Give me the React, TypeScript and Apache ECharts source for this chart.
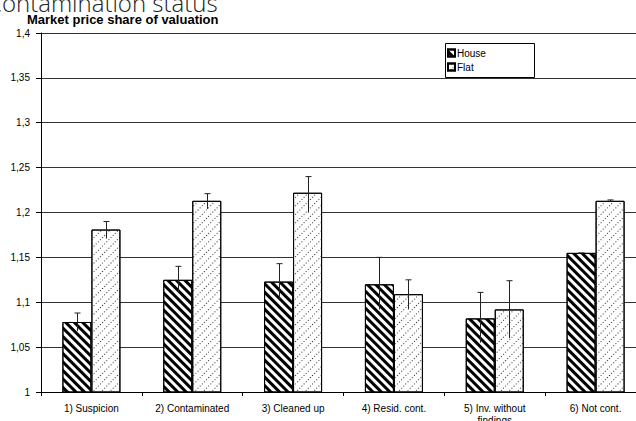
import React, { useEffect, useRef } from "react";
import * as echarts from "echarts";

const categories = [
  "1) Suspicion",
  "2) Contaminated",
  "3) Cleaned up",
  "4) Resid. cont.",
  "5) Inv. without\nfindings",
  "6) Not cont.",
];
const houseValues = [1.078, 1.125, 1.123, 1.12, 1.082, 1.155];
const houseErrLow = [1.068, 1.111, 1.103, 1.092, 1.055, 1.155];
const houseErrHigh = [1.088, 1.14, 1.143, 1.15, 1.111, 1.155];
const flatValues = [1.181, 1.213, 1.222, 1.109, 1.092, 1.213];
const flatErrLow = [1.171, 1.204, 1.2, 1.092, 1.06, 1.212];
const flatErrHigh = [1.19, 1.221, 1.24, 1.125, 1.124, 1.214];
const yTicks = [1, 1.05, 1.1, 1.15, 1.2, 1.25, 1.3, 1.35, 1.4];

const BAR_W = 29;
const FONT = "Liberation Sans";

function errorSeries(low: number[], high: number[], offset: number) {
  return {
    type: "custom",
    z: 5,
    data: low.map((l, i) => [i, l, high[i]]),
    encode: { x: 0, y: [1, 2] },
    renderItem: (params: any, api: any) => {
      const i = api.value(0);
      const lo = api.coord([i, api.value(1)]);
      const hi = api.coord([i, api.value(2)]);
      const x = Math.round(lo[0] + offset) + 0.5;
      const cap = 3;
      const style = { stroke: "#222", lineWidth: 1 };
      return {
        type: "group",
        children: [
          { type: "line", shape: { x1: x, y1: lo[1], x2: x, y2: hi[1] }, style },
          { type: "line", shape: { x1: x - cap, y1: hi[1], x2: x + cap, y2: hi[1] }, style },
        ],
      };
    },
  };
}

export default function App() {
  const ref = useRef<HTMLDivElement>(null);
  useEffect(() => {
    if (!ref.current) return;
    const chart = echarts.init(ref.current, undefined, { renderer: "svg" });
    const houseDecal = {
      symbol: "rect",
      symbolSize: 1,
      color: "#000",
      dashArrayX: [1, 0],
      dashArrayY: [3, 3],
      rotation: Math.PI / 4,
    };
    const flatDecal = {
      symbol: "rect",
      symbolSize: 1,
      color: "#333",
      dashArrayX: [1, 2],
      dashArrayY: [1, 5],
      rotation: -Math.PI / 4,
    };
    chart.setOption({
      animation: false,
      backgroundColor: "#fff",
      textStyle: { fontFamily: FONT },
      grid: {
        left: 41,
        right: -10,
        top: 33,
        bottom: 29,
        containLabel: false,
        outerBoundsMode: "none",
      },
      graphic: [
        {
          type: "text",
          left: -13,
          top: -10,
          style: {
            text: "Contamination status",
            font: "300 24px 'Open Sans'",
            fill: "#222",
          },
        },
        {
          type: "text",
          left: 27,
          top: 13,
          style: {
            text: "Market price share of valuation",
            font: "bold 13px 'Liberation Sans'",
            fill: "#000",
          },
        },
        {
          type: "rect",
          shape: { x: 445.5, y: 43.5, width: 89, height: 34 },
          style: { fill: "#fff", stroke: "#000", lineWidth: 1 },
          z: 10,
        },
      ],
      legend: {
        orient: "vertical",
        left: 447,
        top: 48,
        itemWidth: 7,
        itemHeight: 7,
        itemGap: 4,
        icon: "rect",
        z: 20,
        padding: 0,
        textStyle: { fontSize: 10, color: "#000", fontFamily: FONT, padding: [0, 0, 0, -3] },
        data: ["House", "Flat"],
      },
      xAxis: {
        type: "category",
        data: categories,
        axisLine: { lineStyle: { color: "#000", width: 1 } },
        axisTick: { show: true, length: 4, lineStyle: { color: "#000" } },
        axisLabel: { fontSize: 10, color: "#000", margin: 10, lineHeight: 12, interval: 0, fontFamily: FONT },
        splitLine: { show: false },
      },
      yAxis: {
        type: "value",
        min: 1,
        max: 1.4,
        interval: 0.05,
        axisLine: { show: true, lineStyle: { color: "#000", width: 1 } },
        axisTick: { show: true, length: 5, lineStyle: { color: "#000" } },
        axisLabel: {
          fontSize: 10,
          color: "#000",
          margin: 11,
          fontFamily: FONT,
          formatter: (v: number) => {
            const t = yTicks.find((k) => Math.abs(k - v) < 1e-6);
            return String(t !== undefined ? t : +v.toFixed(2)).replace(".", ",");
          },
        },
        splitLine: { show: true, lineStyle: { color: "#333", width: 1 } },
      },
      series: [
        {
          name: "House",
          type: "bar",
          data: houseValues,
          barWidth: BAR_W,
          barGap: "0%",
          itemStyle: { color: "#fff", borderColor: "#000", borderWidth: 1, decal: houseDecal },
        },
        {
          name: "Flat",
          type: "bar",
          data: flatValues,
          barWidth: BAR_W,
          barGap: "0%",
          itemStyle: { color: "#fff", borderColor: "#000", borderWidth: 1, decal: flatDecal },
        },
        errorSeries(houseErrLow, houseErrHigh, -BAR_W / 2),
        errorSeries(flatErrLow, flatErrHigh, BAR_W / 2),
      ],
    } as any);
    return () => chart.dispose();
  }, []);
  return (
    <div
      ref={ref}
      style={{ position: "fixed", left: 0, top: 0, width: 636, height: 421 }}
    />
  );
}
